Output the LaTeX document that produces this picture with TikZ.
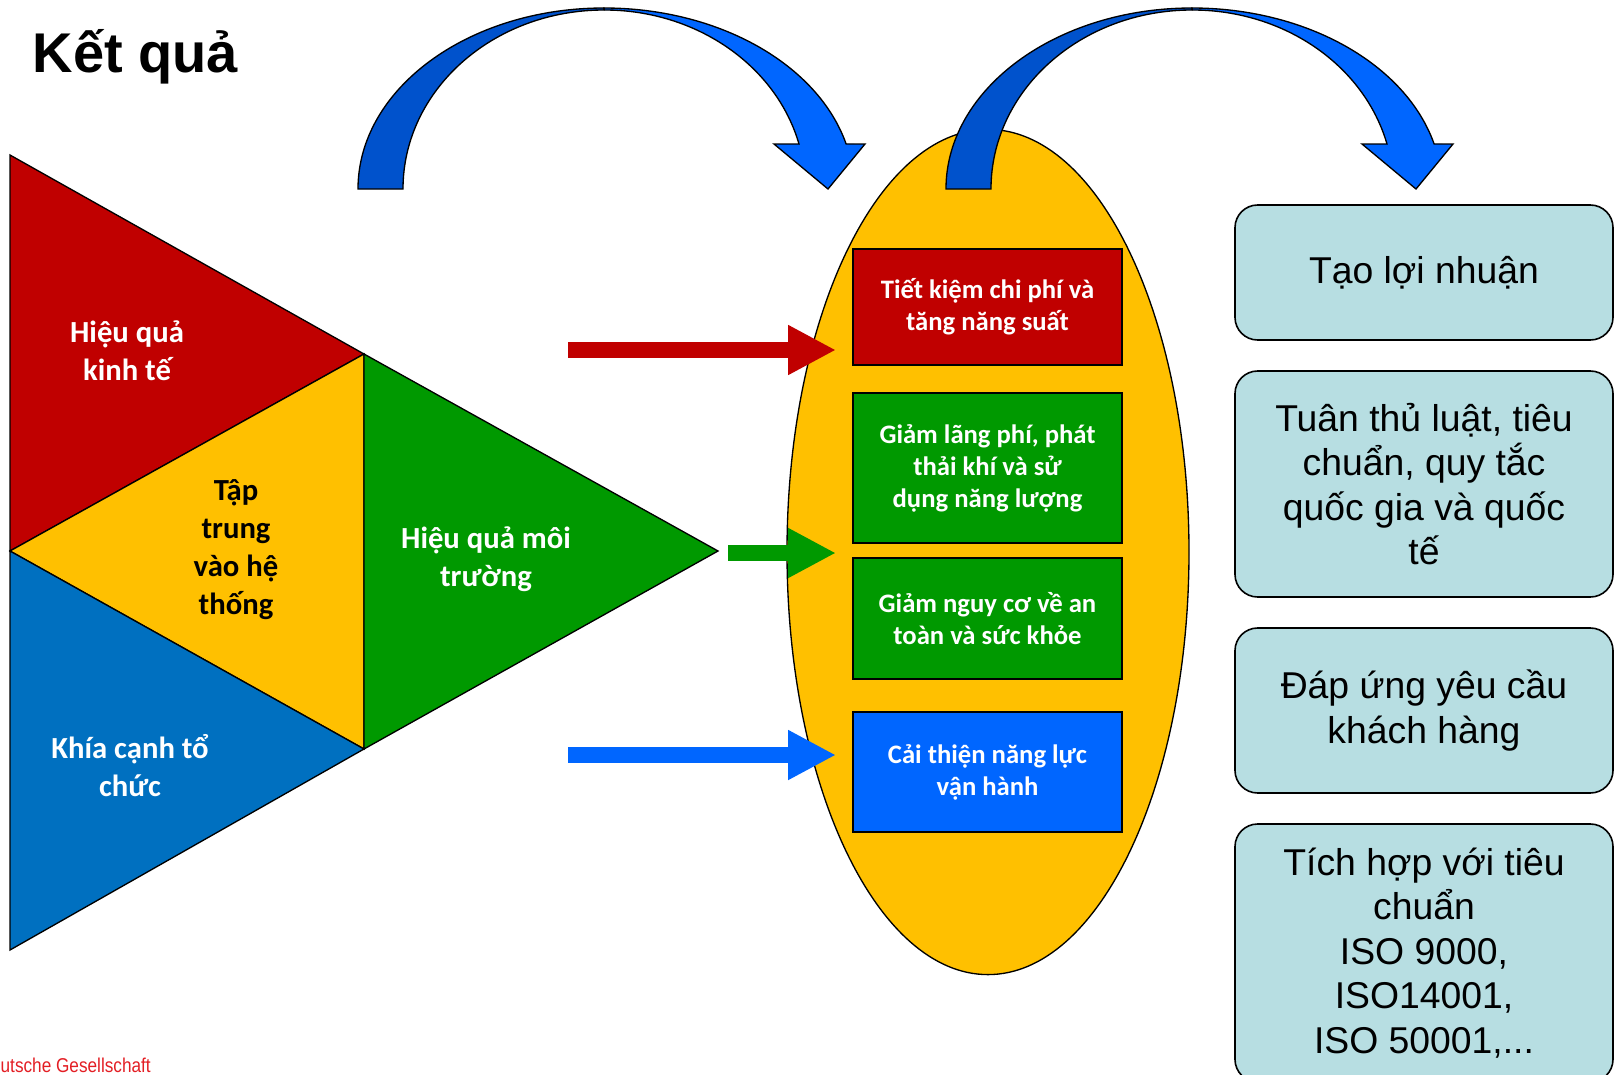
\documentclass[tikz,border=0pt]{standalone}
\usepackage{fontspec}
\setmainfont{Carlito}
\newfontfamily\arialfont{Liberation Sans}
\newfontfamily\narrowfont[FakeStretch=0.86]{Liberation Sans}
\usetikzlibrary{arrows.meta}

\definecolor{effred}{RGB}{192,0,0}
\definecolor{effyellow}{RGB}{255,192,0}
\definecolor{effgreen}{RGB}{0,153,0}
\definecolor{effblue}{RGB}{0,112,192}
\definecolor{boxblue}{RGB}{0,102,255}
\definecolor{benddark}{RGB}{0,82,204}
\definecolor{bendlight}{RGB}{0,102,255}
\definecolor{goalfill}{RGB}{183,222,226}
\definecolor{markred}{RGB}{227,30,36}

\tikzset{every picture/.style={line width=1pt}}
\tikzset{
  tritext/.style={align=center, inner sep=0.75pt, text=white, font=\fontsize{23}{28.5}\selectfont\bfseries},
  effbox/.style={draw, line width=1.2pt, minimum width=201.75pt, align=center, inner sep=0.75pt, text=white, font=\fontsize{20}{24}\selectfont\bfseries},
  goalbox/.style={draw, line width=1.2pt, rounded corners=17pt, fill=goalfill, minimum width=283.5pt, align=center, inner sep=0.75pt, font=\arialfont\fontsize{28}{33.4}\selectfont},
  flowarrow/.style={line width=12pt, -{Triangle[length=36pt,width=35pt]}},
}

\begin{document}
\begin{tikzpicture}[x=0.75pt,y=0.75pt,yscale=-1,xscale=1]
\path[use as bounding box] (0,0) rectangle (1622,1075);

%Shape: Triangle (red)
\draw [fill=effred] (10,155) -- (364,354) -- (10,551) -- cycle ;
%Shape: Triangle (yellow)
\draw [fill=effyellow] (10,551) -- (364,354) -- (364,749) -- cycle ;
%Shape: Triangle (green)
\draw [fill=effgreen] (364,354) -- (718,551) -- (364,749) -- cycle ;
%Shape: Triangle (blue)
\draw [fill=effblue] (10,551) -- (364,749) -- (10,950) -- cycle ;

%Shape: Ellipse
\draw [fill=effyellow] (988,552) ellipse [x radius=201, y radius=422.6] ;

%Shape: Rectangles in the ellipse
\node (cost) [effbox, fill=effred, minimum height=87pt] at (987.5,307) {Tiết kiệm chi phí và\\tăng năng suất};
\node (waste) [effbox, fill=effgreen, minimum height=112.5pt] at (987.5,468) {Giảm lãng phí, phát\\thải khí và sử\\dụng năng lượng};
\node (risk) [effbox, fill=effgreen, minimum height=90.75pt] at (987.5,618.5) {Giảm nguy cơ về an\\toàn và sức khỏe};
\node (oper) [effbox, fill=boxblue, minimum height=90pt] at (987.5,772) {Cải thiện năng lực\\vận hành};

%Curved Arrows
\foreach \dx in {0,588} {
\begin{scope}[shift={(\dx,0)}]
\draw [fill=benddark] (358,189) arc [start angle=180, end angle=270, x radius=246, y radius=181] -- (604,10) arc [start angle=270, end angle=180, x radius=201, y radius=179] -- cycle ;
\draw [fill=bendlight] (604,8) arc [start angle=270, end angle=345.6, x radius=250, y radius=181] -- (865,144) -- (828,189) -- (774,144) -- (799,144) arc [start angle=345.44, end angle=270, x radius=201, y radius=179] -- cycle ;
\end{scope}
}

%Straight Lines
\coordinate (r0) at (568,350);
\coordinate (r1) at (836,350);
\coordinate (g0) at (728,553);
\coordinate (g1) at (836,553);
\coordinate (b0) at (568,755);
\coordinate (b1) at (836,755);
\draw [flowarrow, effred] (r0) -- (r1) ;
\draw [flowarrow, effgreen] (g0) -- (g1) ;
\draw [flowarrow, boxblue] (b0) -- (b1) ;

%Shape: Rounded Rectangles
\node (profit) [goalbox, minimum height=101.25pt] at (1424,272.5) {Tạo lợi nhuận};
\node (law) [goalbox, minimum height=169.5pt] at (1424,484) {Tuân thủ luật, tiêu\\chuẩn, quy tắc\\quốc gia và quốc\\tế};
\node (client) [goalbox, minimum height=123.75pt] at (1424,710.5) {Đáp ứng yêu cầu\\khách hàng};
\node (iso) [goalbox, minimum height=193.5pt] at (1424,953) {Tích hợp với tiêu\\chuẩn\\ISO 9000,\\ISO14001,\\ISO 50001,...};

% Text Node
\node (title) [anchor=base west, inner sep=0pt, font=\arialfont\fontsize{42}{50}\selectfont\bfseries] at (32,72) {Kết quả};
% Text Node
\node (econ) [tritext] at (127,351) {Hiệu quả\\kinh tế};
% Text Node
\node (system) [tritext, text=black] at (236,550) {Tập\\trung\\vào hệ\\thống};
% Text Node
\node (env) [tritext] at (486,559) {Hiệu quả môi\\trường};
% Text Node
\node (org) [tritext] at (130,766) {Khía cạnh tổ\\chức};
% Text Node
\node (mark) [anchor=base west, inner sep=0pt, text=markred, font=\narrowfont\fontsize{15}{17}\selectfont] at (0,1072) {utsche Gesellschaft};

\end{tikzpicture}
\end{document}
